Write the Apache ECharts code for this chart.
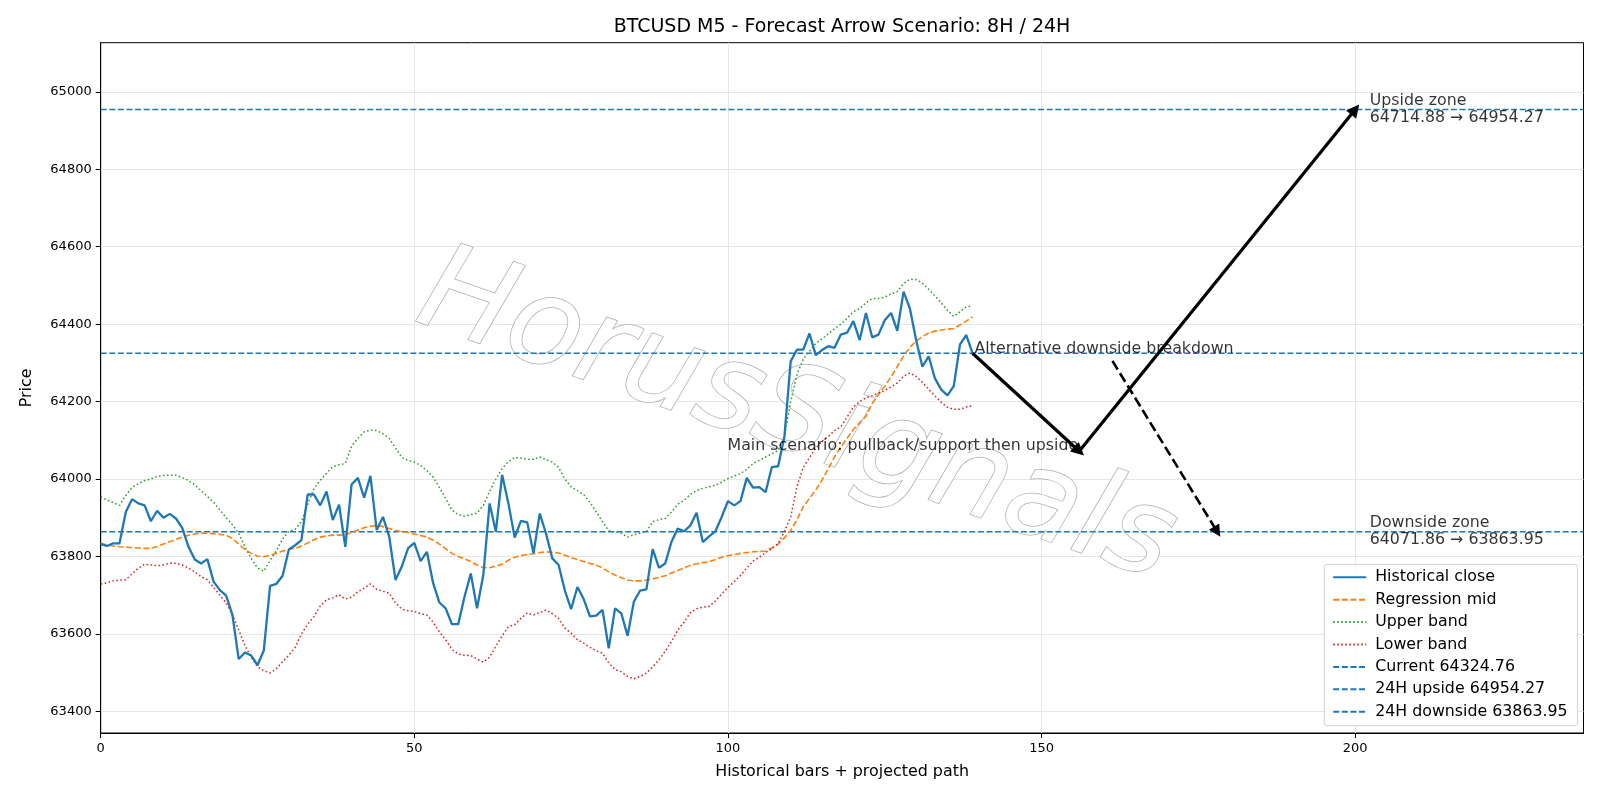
<!DOCTYPE html>
<html><head><meta charset="utf-8">
<script src="https://cdn.jsdelivr.net/npm/echarts@6/dist/echarts.min.js"></script>
<style>html,body{margin:0;padding:0;background:#fff}#c{width:1600px;height:800px}</style>
</head><body><div id="c"></div>
<script>
const chartTitle = 'BTCUSD M5 - Forecast Arrow Scenario: 8H / 24H';
const xTicks = [0, 50, 100, 150, 200];
const yTicks = [63400, 63600, 63800, 64000, 64200, 64400, 64600, 64800, 65000];

const historicalClose = [
63832,63827,63834,63834,63915,63948,63937,63932,63891,63918,
63900,63910,63898,63874,63825,63792,63782,63793,63735,63713,
63699,63649,63535,63552,63544,63519,63557,63724,63729,63750,
63818,63829,63842,63960,63960,63932,63968,63894,63934,63825,
63986,64003,63952,64008,63868,63902,63851,63739,63774,63821,
63835,63788,63812,63731,63681,63666,63625,63625,63696,63756,
63666,63752,63937,63864,64011,63937,63849,63892,63888,63808,
63911,63859,63795,63778,63712,63664,63721,63690,63645,63647,
63662,63563,63666,63653,63595,63683,63712,63715,63819,63771,
63782,63838,63872,63865,63880,63913,63837,63852,63865,63902,
63943,63932,63943,64003,63978,63979,63966,64031,64033,64109,
64304,64334,64334,64376,64320,64333,64343,64339,64373,64378,
64408,64359,64429,64366,64373,64410,64429,64383,64484,64441,
64359,64290,64317,64260,64231,64216,64240,64348,64372,64324.76
];
const regressionMid = [
63834,63830,63827,63825,63824,63823,63822,63821,63821,63826,
63832,63838,63844,63850,63855,63858,63860,63860,63859,63857,
63855,63846,63832,63818,63808,63801,63799,63803,63808,63814,
63818,63821,63827,63835,63843,63850,63853,63855,63855,63856,
63862,63868,63874,63878,63880,63877,63872,63867,63864,63862,
63858,63854,63850,63842,63832,63820,63808,63800,63794,63787,
63778,63771,63771,63775,63780,63790,63798,63802,63805,63807,
63810,63812,63811,63809,63803,63797,63792,63787,63782,63778,
63770,63760,63752,63745,63739,63737,63737,63739,63742,63746,
63750,63757,63764,63770,63777,63781,63784,63786,63792,63798,
63802,63805,63808,63810,63812,63813,63814,63822,63832,63848,
63867,63895,63928,63950,63972,63997,64027,64057,64083,64105,
64128,64145,64162,64195,64218,64240,64264,64290,64318,64340,
64356,64368,64377,64382,64385,64387,64389,64398,64408,64419
];
const upperBand = [
63954,63946,63939,63932,63958,63978,63988,63996,64000,64007,
64009,64010,64010,64004,63996,63985,63970,63955,63940,63920,
63900,63882,63860,63825,63795,63770,63762,63790,63815,63845,
63865,63870,63890,63935,63975,63997,64015,64032,64037,64040,
64085,64105,64122,64126,64125,64117,64105,64080,64056,64048,
64044,64035,64022,64005,63978,63950,63920,63908,63904,63908,
63912,63932,63968,64000,64027,64045,64056,64054,64051,64051,
64057,64050,64044,64030,64000,63980,63970,63960,63940,63915,
63890,63866,63864,63860,63850,63856,63860,63864,63890,63895,
63898,63915,63935,63945,63960,63970,63976,63980,63984,63992,
64001,64008,64014,64025,64040,64048,64057,64065,64074,64109,
64200,64270,64310,64330,64350,64362,64375,64388,64400,64415,
64432,64440,64455,64466,64466,64470,64478,64484,64505,64516,
64515,64506,64490,64473,64455,64436,64420,64432,64445,64447
];
const lowerBand = [
63729,63732,63737,63739,63740,63755,63770,63780,63778,63776,
63778,63783,63782,63778,63770,63760,63748,63740,63720,63700,
63680,63650,63610,63570,63540,63515,63505,63499,63510,63528,
63545,63565,63600,63625,63645,63672,63688,63693,63701,63690,
63695,63709,63718,63729,63715,63710,63705,63680,63664,63660,
63658,63652,63649,63630,63605,63585,63560,63548,63545,63544,
63535,63527,63540,63568,63595,63619,63624,63640,63654,63649,
63655,63662,63652,63640,63615,63602,63585,63576,63565,63557,
63550,63525,63508,63502,63490,63484,63490,63499,63515,63533,
63555,63580,63610,63630,63655,63665,63669,63671,63685,63703,
63720,63735,63751,63770,63788,63798,63810,63820,63833,63865,
63902,63980,64030,64055,64080,64098,64110,64125,64135,64160,
64186,64200,64210,64215,64222,64229,64238,64248,64265,64274,
64265,64250,64232,64215,64198,64185,64180,64180,64186,64190
];
const currentPrice = 64324.76;
const upside24h = 64954.27;
const downside24h = 63863.95;
const upsideZone = [64714.88, 64954.27];
const downsideZone = [64071.86, 63863.95];
const mainPath = [[139, 64324.76], [156, 64071.86], [200, 64954.27]];
const altArrow = [[161.3, 64305], [178, 63863.95]];
const zoneLabelX = 202;
const watermarkText = 'HorusSignals';

const X_MIN = 0, X_MAX = 236.4, Y_MIN = 63344, Y_MAX = 65127;
const FONT = 'DejaVu Sans';
const idx = (arr) => arr.map((v, i) => [i, v]);
const hline = (v) => [[X_MIN, v], [X_MAX, v]];

const chart = echarts.init(document.getElementById('c'), null, {renderer: 'canvas'});
const dashH = {color: '#1f77b4', width: 1.5, type: [6, 2.6]};
const legendNames = ['Historical close', 'Regression mid', 'Upper band', 'Lower band',
  'Current ' + currentPrice.toFixed(2), '24H upside ' + upside24h.toFixed(2), '24H downside ' + downside24h.toFixed(2)];
const option = {
  animation: false,
  backgroundColor: '#fff',
  textStyle: {fontFamily: FONT},
  title: {text: chartTitle, left: 837, textAlign: 'center', top: 13,
    textStyle: {fontFamily: FONT, fontSize: 19, fontWeight: 'normal', color: '#000'}},
  grid: {left: 100.7, right: 16.5, top: 42.7, bottom: 67, show: true, borderColor: '#000', borderWidth: 1, containLabel: false},
  graphic: [{
    type: 'text', x: 796, y: 420, rotation: -0.335, z: 1, silent: true,
    style: {text: watermarkText, fontSize: 121, fontStyle: 'italic', fontFamily: FONT,
      align: 'center', verticalAlign: 'middle',
      fill: 'rgba(255,255,255,0.96)', stroke: 'rgba(165,165,165,0.9)', lineWidth: 1.5,
      shadowColor: 'rgba(0,0,0,0.36)', shadowBlur: 3, shadowOffsetX: -4, shadowOffsetY: 4}
  }],
  legend: {
    orient: 'vertical', right: 22.4, bottom: 74.3, align: 'left',
    itemWidth: 33, itemHeight: 16, itemGap: 6.4, padding: [5, 10, 6, 8],
    borderColor: '#d0d0d0', borderWidth: 1, borderRadius: 3, backgroundColor: 'rgba(255,255,255,0.85)',
    itemStyle: {opacity: 0},
    textStyle: {fontFamily: FONT, fontSize: 15.8, lineHeight: 16, color: '#000', padding: [0, 0, 0, 4]},
    data: legendNames
  },
  xAxis: {
    type: 'value', min: X_MIN, max: X_MAX,
    name: 'Historical bars + projected path', nameLocation: 'middle', nameGap: 31,
    nameTextStyle: {fontFamily: FONT, fontSize: 15.9, color: '#000'},
    axisLine: {show: true, onZero: false, lineStyle: {color: '#000', width: 1}},
    axisTick: {show: true, length: 5, lineStyle: {color: '#000'}, customValues: xTicks},
    axisLabel: {fontFamily: FONT, fontSize: 13, color: '#000', margin: 9, customValues: xTicks,
      formatter: (v) => String(v)},
    splitLine: {show: true, lineStyle: {color: '#e6e6e6', width: 1}}
  },
  yAxis: {
    type: 'value', min: Y_MIN, max: Y_MAX,
    name: 'Price', nameLocation: 'middle', nameGap: 66, nameRotate: 90,
    nameTextStyle: {fontFamily: FONT, fontSize: 15.9, color: '#000'},
    axisLine: {show: true, onZero: false, lineStyle: {color: '#000', width: 1}},
    axisTick: {show: true, length: 5, lineStyle: {color: '#000'}, customValues: yTicks},
    axisLabel: {fontFamily: FONT, fontSize: 13, color: '#000', margin: 9, customValues: yTicks,
      formatter: (v) => String(v)},
    splitLine: {show: true, lineStyle: {color: '#e6e6e6', width: 1}}
  },
  series: [
    {name: legendNames[0], type: 'line', data: idx(historicalClose), symbol: 'none', z: 5,
      lineStyle: {color: '#1f77b4', width: 2.3}, itemStyle: {color: '#1f77b4'}},
    {name: legendNames[1], type: 'line', data: idx(regressionMid), symbol: 'none', z: 4,
      lineStyle: {color: '#ff7f0e', width: 1.6, type: [6, 2.6]}, itemStyle: {color: '#ff7f0e'}},
    {name: legendNames[2], type: 'line', data: idx(upperBand), symbol: 'none', z: 4,
      lineStyle: {color: '#2ca02c', width: 1.5, type: [1.6, 2.4]}, itemStyle: {color: '#2ca02c'}},
    {name: legendNames[3], type: 'line', data: idx(lowerBand), symbol: 'none', z: 4,
      lineStyle: {color: '#d62728', width: 1.5, type: [1.6, 2.4]}, itemStyle: {color: '#d62728'}},
    {name: legendNames[4], type: 'line', data: hline(currentPrice), symbol: 'none', z: 3,
      lineStyle: dashH, itemStyle: {color: '#1f77b4'}},
    {name: legendNames[5], type: 'line', data: hline(upside24h), symbol: 'none', z: 3,
      lineStyle: dashH, itemStyle: {color: '#1f77b4'}},
    {name: legendNames[6], type: 'line', data: hline(downside24h), symbol: 'none', z: 3,
      lineStyle: dashH, itemStyle: {color: '#1f77b4'}},
    {name: 'mainArrows', type: 'lines', coordinateSystem: 'cartesian2d', z: 6,
      symbol: ['none', 'triangle'], symbolSize: [10, 13],
      lineStyle: {color: '#000', width: 3.2, opacity: 1, curveness: 0},
      data: [{coords: [mainPath[0], mainPath[1]]}, {coords: [mainPath[1], mainPath[2]]}]},
    {name: 'altArrow', type: 'lines', coordinateSystem: 'cartesian2d', z: 6,
      symbol: ['none', 'triangle'], symbolSize: [9, 12],
      lineStyle: {color: '#000', width: 2.6, type: [10, 4.4], opacity: 1, curveness: 0},
      data: [{coords: altArrow}]},
    {name: 'labels', type: 'scatter', symbolSize: 0, z: 7, silent: true,
      data: [
        {value: mainPath[1], label: {formatter: 'Main scenario: pullback/support then upside', position: [-1, -5], align: 'right', verticalAlign: 'middle'}},
        {value: mainPath[0], label: {formatter: 'Alternative downside breakdown', position: [2, -4], align: 'left', verticalAlign: 'middle'}},
        {value: [zoneLabelX, upsideZone[1]], label: {formatter: 'Upside zone\n' + upsideZone[0].toFixed(2) + ' → ' + upsideZone[1].toFixed(2), position: [2, 0], align: 'left', verticalAlign: 'middle'}},
        {value: [zoneLabelX, downsideZone[1]], label: {formatter: 'Downside zone\n' + downsideZone[0].toFixed(2) + ' → ' + downsideZone[1].toFixed(2), position: [2, 0], align: 'left', verticalAlign: 'middle'}}
      ],
      label: {show: true, fontFamily: FONT, fontSize: 15.8, color: '#000', lineHeight: 17}
    }
  ]
};
chart.setOption(option);
</script></body></html>
